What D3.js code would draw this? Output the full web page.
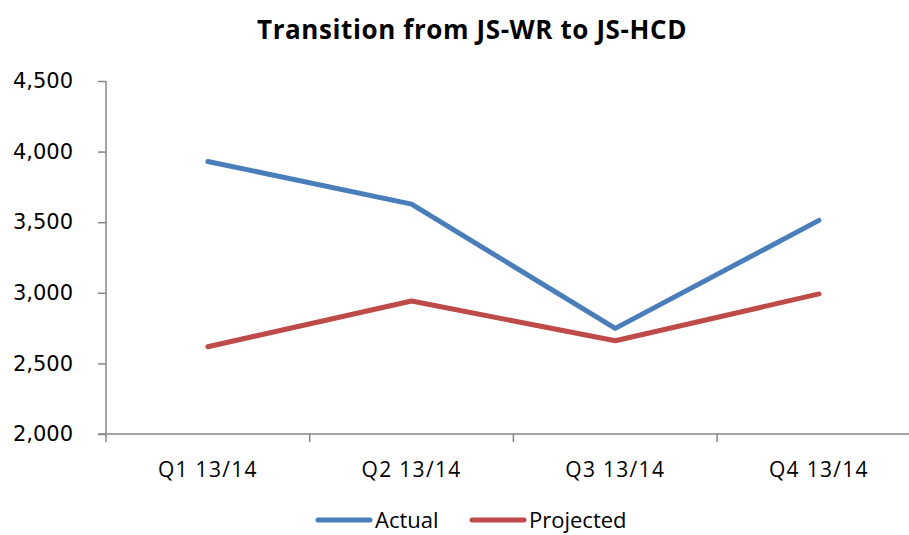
<!DOCTYPE html>
<html>
<head>
<meta charset="utf-8">
<script src="https://cdn.jsdelivr.net/npm/d3@7"></script>
<style>
  body { margin: 0; background: white; }
</style>
</head>
<body>
<div id="chart"></div>
<script>
var w = 909;
var h = 535;

// data
var quarters = ["Q1 13/14", "Q2 13/14", "Q3 13/14", "Q4 13/14"];
var actual = [3930, 3628, 2748, 3513];
var projected = [2618, 2942, 2660, 2992];
var yTicks = [2000, 2500, 3000, 3500, 4000, 4500];
var seriesNames = ["Actual", "Projected"];
var seriesColors = ["#4A7EBB", "#BE4B48"];

var labelFont = "'Open Sans', sans-serif";

var svg = d3.select("#chart").append("svg")
  .attr("width", w)
  .attr("height", h)
  .style("background-color", "white");

var plotLeft = 106, plotTop = 81, plotBottom = 434;

var xScale = d3.scaleBand()
  .domain(quarters)
  .range([plotLeft, plotLeft + 4 * 203.7]);

var yScale = d3.scaleLinear()
  .domain([2000, 4500])
  .range([plotBottom, plotTop]);

// title
svg.append("text")
  .attr("x", 472)
  .attr("y", 39)
  .attr("text-anchor", "middle")
  .style("font-family", labelFont)
  .style("font-weight", "bold")
  .style("font-size", "26px")
  .style("letter-spacing", "0.6px")
  .text("Transition from JS-WR to JS-HCD");

// y axis
var yAxis = svg.append("g")
  .attr("transform", "translate(" + plotLeft + ",0)")
  .call(d3.axisLeft(yScale).tickValues(yTicks).tickFormat(d3.format(",")).tickSize(8).tickPadding(25));
yAxis.select(".domain").attr("stroke", "#868686").attr("stroke-width", 1.5)
  .attr("d", "M0," + plotTop + "V" + plotBottom);
yAxis.selectAll(".tick line").attr("stroke", "#868686").attr("stroke-width", 1.5);
yAxis.selectAll(".tick text")
  .attr("fill", "#000")
  .style("font-family", "'DejaVu Sans', sans-serif")
  .style("font-size", "21px");

// x axis
var xAxis = svg.append("g")
  .attr("transform", "translate(0," + plotBottom + ")");
xAxis.append("line")
  .attr("x1", plotLeft - 8).attr("x2", w)
  .attr("stroke", "#868686").attr("stroke-width", 1.5);
xAxis.selectAll(".xtick")
  .data(quarters)
  .enter().append("line")
  .attr("x1", function(d) { return xScale(d); })
  .attr("x2", function(d) { return xScale(d); })
  .attr("y1", 0).attr("y2", 8)
  .attr("stroke", "#868686").attr("stroke-width", 1.5);
xAxis.selectAll(".xlabel")
  .data(quarters)
  .enter().append("text")
  .attr("x", function(d) { return xScale(d) + xScale.bandwidth() / 2; })
  .attr("y", 43)
  .attr("text-anchor", "middle")
  .style("font-family", labelFont)
  .style("font-size", "21px")
  .style("letter-spacing", "1.3px")
  .text(function(d) { return d; });

// lines
var line = d3.line()
  .x(function(d, i) { return xScale(quarters[i]) + xScale.bandwidth() / 2; })
  .y(function(d) { return yScale(d); });

[actual, projected].forEach(function(vals, k) {
  svg.append("path")
    .datum(vals)
    .attr("d", line)
    .attr("fill", "none")
    .attr("stroke", seriesColors[k])
    .attr("stroke-width", 5)
    .attr("stroke-linecap", "round")
    .attr("stroke-linejoin", "round");
});

// legend (kept a few px up so the descenders stay on the page)
var legendX = [318, 472];
var legend = svg.selectAll(".legend")
  .data(seriesNames)
  .enter().append("g")
  .attr("transform", function(d, i) { return "translate(" + legendX[i] + ",520)"; });
legend.append("line")
  .attr("x1", 0).attr("x2", 52)
  .attr("stroke", function(d, i) { return seriesColors[i]; })
  .attr("stroke-width", 5)
  .attr("stroke-linecap", "round");
legend.append("text")
  .attr("x", 57)
  .attr("y", 8)
  .style("font-family", labelFont)
  .style("font-size", "22px")
  .text(function(d) { return d; });
</script>
</body>
</html>
